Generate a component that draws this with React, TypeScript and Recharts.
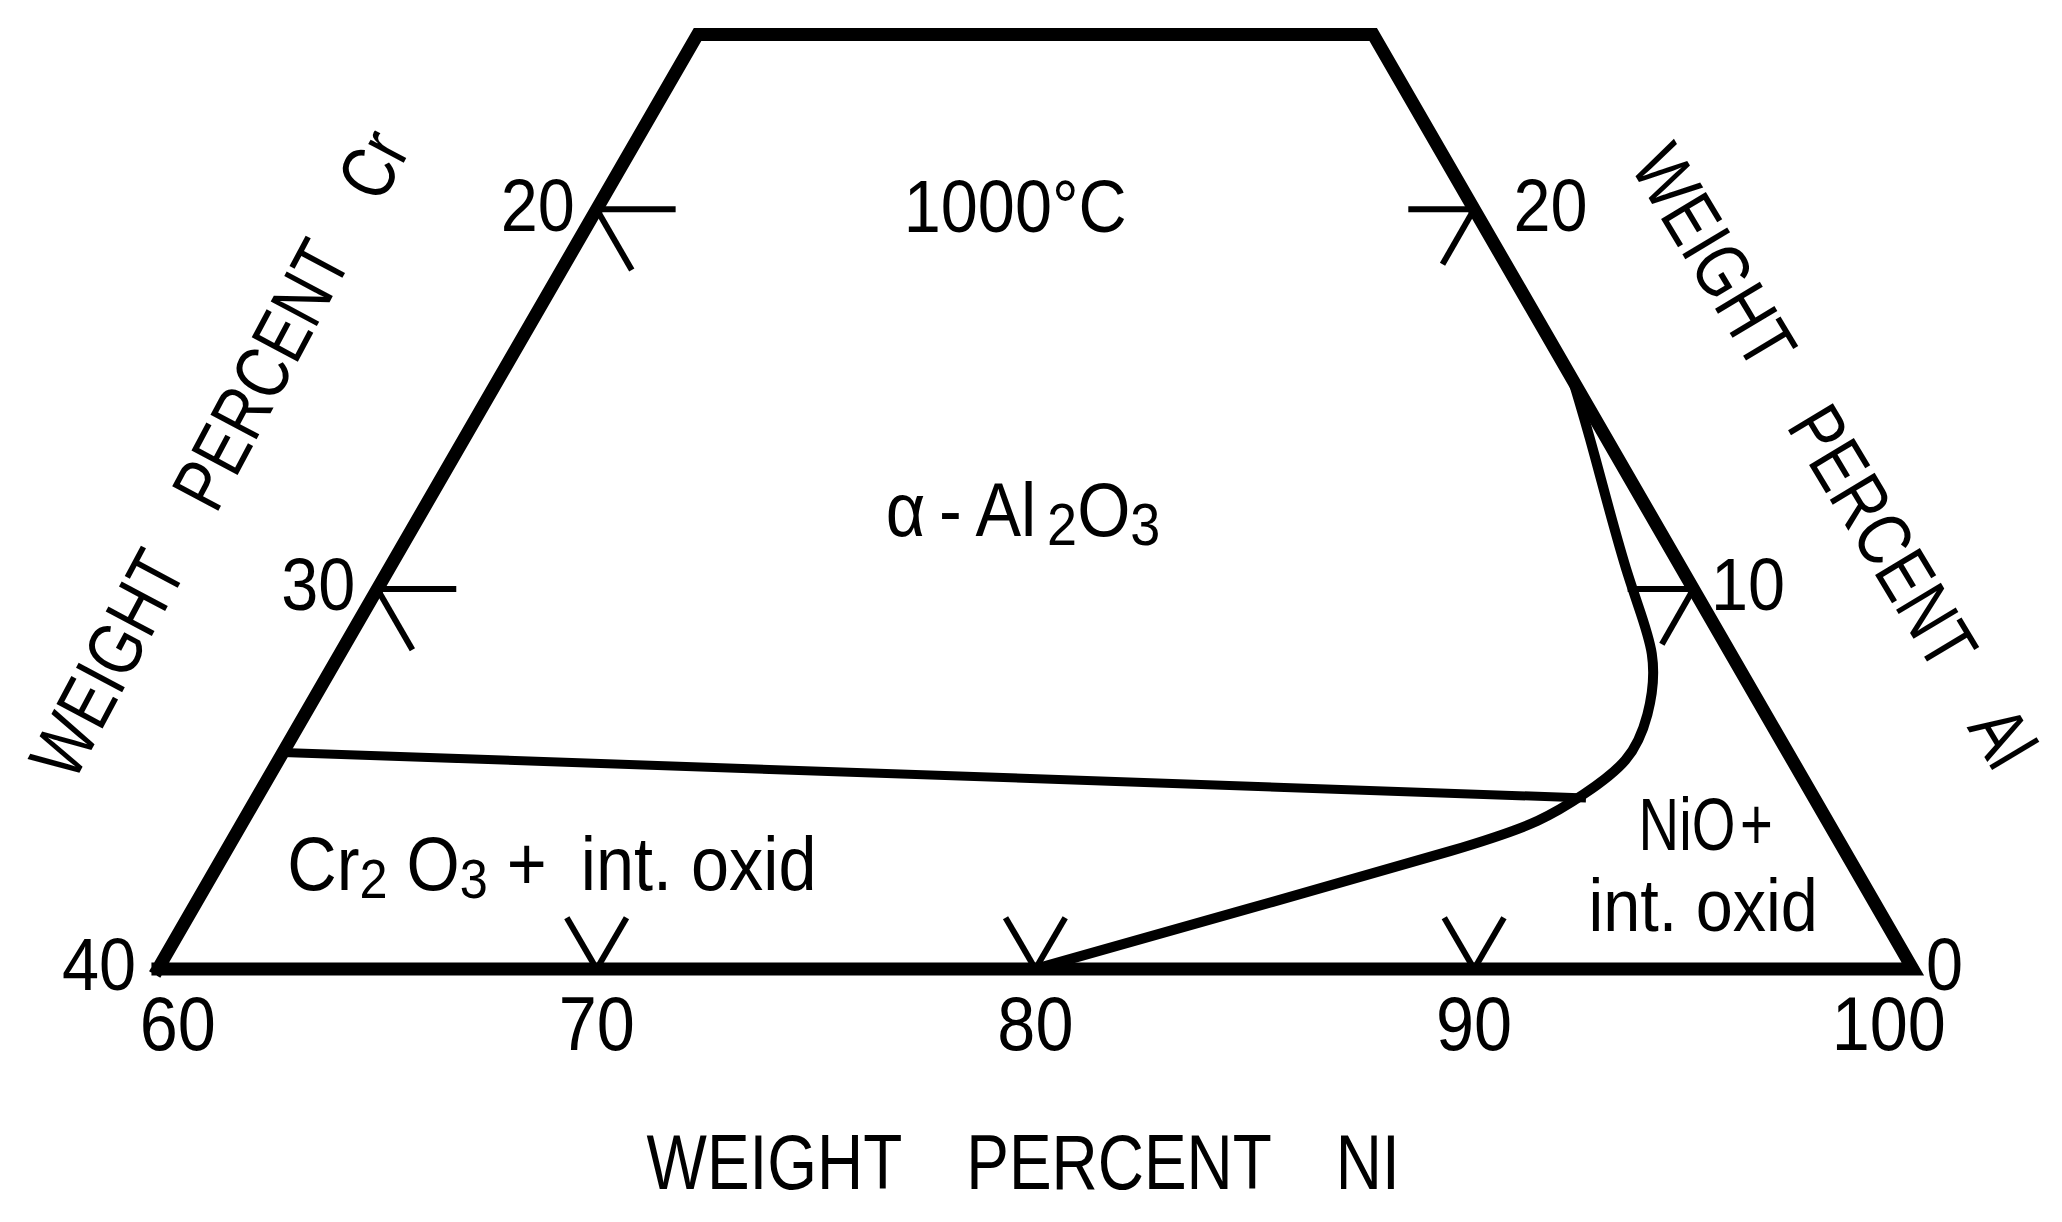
import React from 'react'
import { ComposedChart, Line, XAxis, YAxis, ReferenceLine, ReferenceDot } from 'recharts'

const W = 2062
const H = 1222
const FONT = '"Liberation Sans", Arial, sans-serif'
const K = Math.sqrt(3) / 2

// wt% Ni runs along the bottom, wt% Al goes up, Cr is what is left
const toXY = (ni: number, al: number) => ({ x: ni + al / 2, y: al * K })

const niTicks = [60, 70, 80, 90, 100]
const crTicks = [20, 30, 40]
const alTicks = [0, 10, 20]
const niMarks = [70, 80, 90]
const crMarks = [20, 30]
const alMarks = [10, 20]
const niMin = 60
const alTop = 24.6

// Cr2O3 / alpha-Al2O3 border
const chromiaNi = [60, 90.3]
const chromiaAl = [5.7, 4.5]

// alpha-Al2O3 / NiO border, from the Al edge down to 80 Ni
const aluminaNi = [84.5, 86.0, 88.3, 89.9, 90.6, 90.7, 90.2, 89.5, 87.9, 84.1, 80]
const aluminaAl = [15.5, 13.5, 10.4, 8.3, 6.7, 5.5, 4.6, 3.9, 3.1, 1.6, 0]

const frame = [
  toXY(niMin, 0),
  toXY(niMin, alTop),
  toXY(100 - alTop, alTop),
  toXY(100, 0),
  toXY(niMin, 0),
]
const chromia = chromiaNi.map((n, i) => toXY(n, chromiaAl[i]))
const alumina = aluminaNi.map((n, i) => toXY(n, aluminaAl[i]))

const X_DOMAIN: [number, number] = [56.4, 103.4]
const Y_DOMAIN: [number, number] = [-5.77, 22.09]

const textShape =
  (content: React.ReactNode, size: number, anchor = 'middle', angle = 0, sx = 0.9) =>
  (p: any) => (
    <text
      transform={`translate(${p.cx} ${p.cy}) rotate(${angle}) scale(${sx} 1)`}
      textAnchor={anchor}
      dominantBaseline="central"
      fontSize={size}
      fontFamily={FONT}
      fill="#000"
    >
      {content}
    </text>
  )

const sub = (t: string, size: number, dy: number) => (
  <tspan dy={dy} fontSize={size}>
    {t}
  </tspan>
)

const GAP = '\u2003'

export default function App() {
  const tickLine = (a: { x: number; y: number }, b: { x: number; y: number }, key: string) => (
    <ReferenceLine key={key} segment={[a, b]} stroke="#000" strokeWidth={6} />
  )

  return (
    <div style={{ position: 'absolute', left: 0, top: 0, width: W, height: H, background: '#fff' }}>
      <ComposedChart width={W} height={H} margin={{ top: 0, right: 0, bottom: 0, left: 0 }}>
        <XAxis type="number" dataKey="x" domain={X_DOMAIN} hide allowDataOverflow />
        <YAxis type="number" dataKey="y" domain={Y_DOMAIN} hide allowDataOverflow />

        <Line
          data={frame}
          dataKey="y"
          type="linear"
          stroke="#000"
          strokeWidth={13}
          strokeLinejoin="miter"
          strokeLinecap="square"
          dot={false}
          activeDot={false}
          isAnimationActive={false}
        />
        <Line
          data={chromia}
          dataKey="y"
          type="linear"
          stroke="#000"
          strokeWidth={9}
          dot={false}
          activeDot={false}
          isAnimationActive={false}
        />
        <Line
          data={alumina}
          dataKey="y"
          type="natural"
          stroke="#000"
          strokeWidth={10}
          dot={false}
          activeDot={false}
          isAnimationActive={false}
        />

        {crMarks.map((c) => {
          const p = toXY(niMin, 40 - c)
          return [
            tickLine(p, { x: p.x + 1.8, y: p.y }, `cr-h-${c}`),
            tickLine(p, { x: p.x + 0.8, y: p.y - 1.6 * K }, `cr-d-${c}`),
          ]
        })}
        {alMarks.map((a) => {
          const p = toXY(100 - a, a)
          return [
            tickLine(p, { x: p.x - 1.5, y: p.y }, `al-h-${a}`),
            tickLine(p, { x: p.x - 0.72, y: p.y - 1.45 * K }, `al-d-${a}`),
          ]
        })}
        {niMarks.map((n) => {
          const p = toXY(n, 0)
          return [
            tickLine(p, { x: p.x - 0.68, y: 1.35 * K }, `ni-l-${n}`),
            tickLine(p, { x: p.x + 0.68, y: 1.35 * K }, `ni-r-${n}`),
          ]
        })}

        {niTicks.map((n) => (
          <ReferenceDot
            key={`nl-${n}`}
            x={n + (n === 60 ? 0.45 : n === 100 ? -0.55 : 0)}
            y={-1.25}
            r={1}
            shape={textShape(String(n), 76)}
          />
        ))}
        {crTicks.map((c) => {
          const p = toXY(niMin, 40 - c)
          return (
            <ReferenceDot
              key={`cl-${c}`}
              x={p.x - 0.5}
              y={p.y + 0.1}
              r={1}
              shape={textShape(String(c), 74, 'end')}
            />
          )
        })}
        {alTicks.map((a, i) => {
          const p = toXY(100 - a, a)
          const dx = [0.3, 0.4, 0.9][i]
          return (
            <ReferenceDot
              key={`al-${a}`}
              x={p.x + dx}
              y={p.y + 0.1}
              r={1}
              shape={textShape(String(a), 74, 'start')}
            />
          )
        })}

        <ReferenceDot x={79.54} y={17.39} r={1} shape={textShape('1000°C', 74)} />
        <ReferenceDot
          x={79.72}
          y={10.46}
          r={1}
          shape={textShape(
            <>
              <tspan>{'α\u2009-\u2009Al'}</tspan>
              {sub('\u20092', 60, 14)}
              <tspan dy={-14}>O</tspan>
              {sub('3', 60, 14)}
            </>,
            76,
          )}
        />
        <ReferenceDot
          x={68.98}
          y={2.39}
          r={1}
          shape={textShape(
            <>
              <tspan>Cr</tspan>
              {sub('2', 56, 14)}
              <tspan dy={-14}>{' O'}</tspan>
              {sub('3', 56, 14)}
              <tspan dy={-14}>{' +\u2002int. oxid'}</tspan>
            </>,
            76,
          )}
        />
        <ReferenceDot x={95.28} y={3.28} r={1} shape={textShape('NiO\u200a+', 74, 'middle', 0, 0.76)} />
        <ReferenceDot x={95.22} y={1.46} r={1} shape={textShape('int. oxid', 74)} />

        <ReferenceDot
          x={79.72}
          y={-4.4}
          r={1}
          shape={textShape(`WEIGHT${GAP}PERCENT${GAP}NI`, 78, 'middle', 0, 0.82)}
        />
        <ReferenceDot
          x={61.4}
          y={11.74}
          r={1}
          shape={textShape(`WEIGHT${GAP}PERCENT${GAP}Cr`, 76, 'middle', -62, 0.8)}
        />
        <ReferenceDot
          x={98.2}
          y={11.69}
          r={1}
          shape={textShape(`WEIGHT${GAP}PERCENT${GAP}Al`, 76, 'middle', 59, 0.8)}
        />
      </ComposedChart>
    </div>
  )
}
